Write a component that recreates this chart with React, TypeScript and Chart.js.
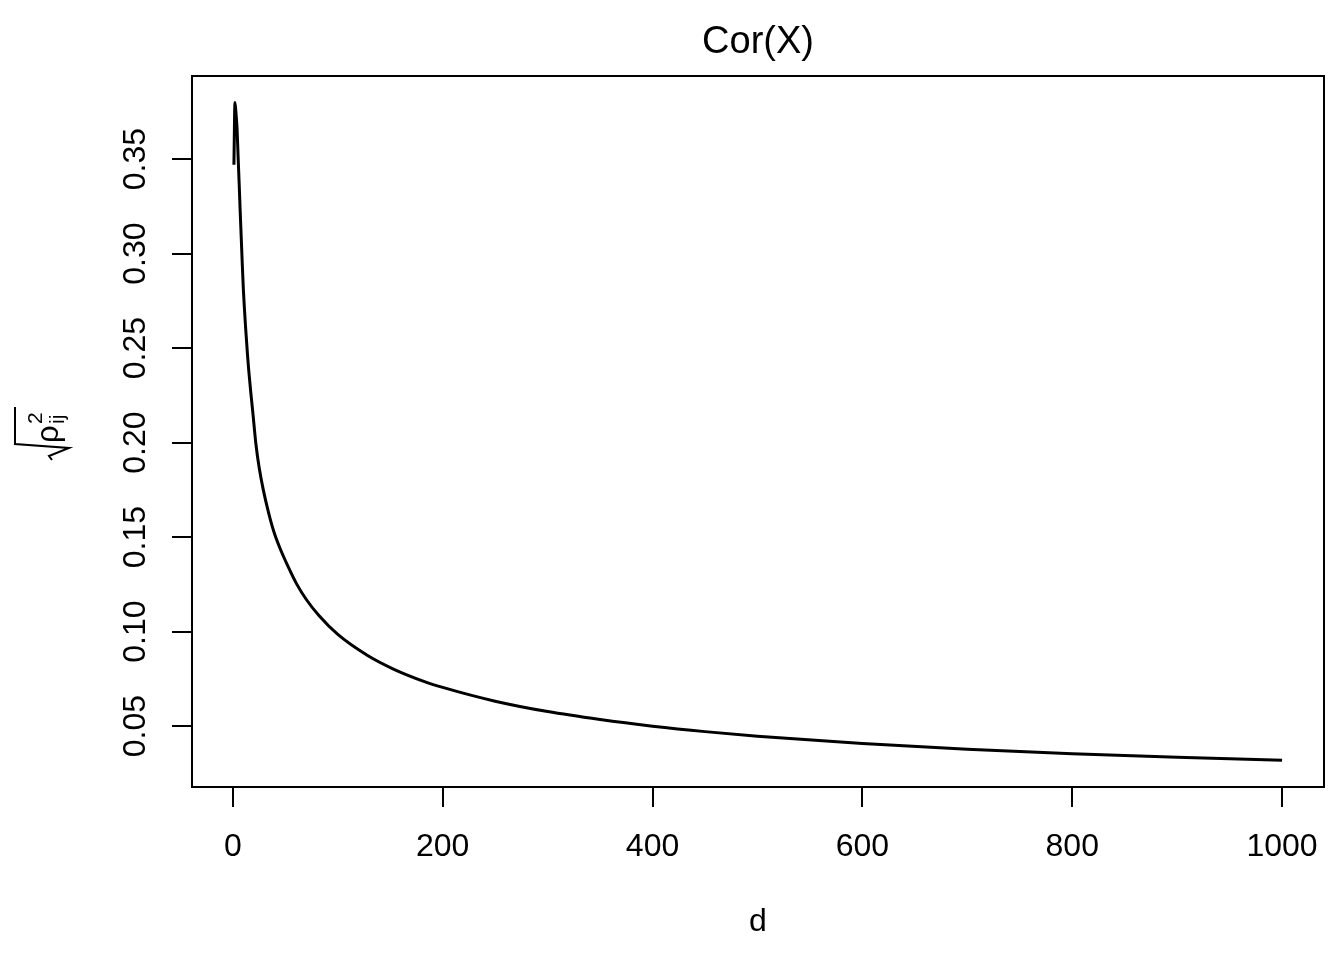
import React, { useEffect, useRef } from "react";
import { Chart, registerables } from "chart.js";

Chart.register(...registerables);

// dimension d
const dValues: number[] = [
  1, 2, 3, 4, 5, 6, 7, 8, 9, 10, 11, 12, 13, 14, 15, 16, 17, 19, 22, 25, 29, 34, 39, 45, 53, 61, 70, 82, 100,
  128, 153, 182, 200, 250, 300, 350, 400, 450, 500, 600, 700, 800, 900, 1000,
];
// sqrt(mean rho_ij^2)
const rhoValues: number[] = [
  0.347, 0.38, 0.374, 0.366, 0.351, 0.337, 0.322, 0.308, 0.294, 0.281, 0.271, 0.262, 0.254, 0.246, 0.239, 0.233,
  0.227, 0.216, 0.199, 0.187, 0.175, 0.163, 0.153, 0.144, 0.134, 0.125, 0.117, 0.1085, 0.0985, 0.0875, 0.0802,
  0.0737, 0.0705, 0.0632, 0.0577, 0.0535, 0.05, 0.0471, 0.0447, 0.0408, 0.0378, 0.0354, 0.0335, 0.032,
];
const xTicks: number[] = [0, 200, 400, 600, 800, 1000];
const xTickLabels: string[] = ["0", "200", "400", "600", "800", "1000"];
const yTicks: number[] = [0.05, 0.1, 0.15, 0.2, 0.25, 0.3, 0.35];
const yTickLabels: string[] = ["0.05", "0.10", "0.15", "0.20", "0.25", "0.30", "0.35"];
const titleText = "Cor(X)";
const xLabel = "d";

const FONT = '"Liberation Sans", Arial, Helvetica, sans-serif';

export default function App() {
  const ref = useRef<HTMLCanvasElement | null>(null);

  useEffect(() => {
    const canvas = ref.current;
    if (!canvas) return;
    const pts = dValues.map((d, i) => ({ x: d, y: rhoValues[i] }));

    const textPlugin = {
      id: "rtext",
      afterDraw(chart: any) {
        const ctx = chart.ctx as CanvasRenderingContext2D;
        const a = chart.chartArea;
        const xs = chart.scales.x;
        const ys = chart.scales.y;
        ctx.save();
        // box
        ctx.strokeStyle = "#000";
        ctx.lineWidth = 2;
        ctx.strokeRect(a.left, a.top, a.right - a.left, a.bottom - a.top);
        ctx.fillStyle = "#000";
        // x tick labels
        ctx.font = `32px ${FONT}`;
        ctx.textAlign = "center";
        ctx.textBaseline = "middle";
        xTicks.forEach((v, i) => {
          ctx.fillText(xTickLabels[i], xs.getPixelForValue(v), 847);
        });
        // y tick labels rotated
        yTicks.forEach((v, i) => {
          ctx.save();
          ctx.translate(136, ys.getPixelForValue(v));
          ctx.rotate(-Math.PI / 2);
          ctx.fillText(yTickLabels[i], 0, 0);
          ctx.restore();
        });
        // title
        ctx.font = `38px ${FONT}`;
        ctx.fillText(titleText, (a.left + a.right) / 2, 43);
        // x label
        ctx.font = `32px ${FONT}`;
        ctx.fillText(xLabel, (a.left + a.right) / 2, 922);
        // y label: sqrt(rho_ij^2)
        ctx.save();
        ctx.translate(58, 458);
        ctx.rotate(-Math.PI / 2);
        ctx.lineWidth = 2;
        ctx.beginPath();
        ctx.moveTo(-2, -6);
        ctx.lineTo(2, -9);
        ctx.lineTo(10, 11);
        ctx.lineTo(14, -43);
        ctx.lineTo(51, -43);
        ctx.stroke();
        ctx.textAlign = "left";
        ctx.textBaseline = "alphabetic";
        ctx.font = `31px ${FONT}`;
        ctx.fillText("\u03c1", 15, 0);
        ctx.font = `21px ${FONT}`;
        ctx.fillText("2", 34, -16);
        ctx.fillText("ij", 34, 6);
        ctx.restore();
        ctx.restore();
      },
    };

    const chart = new Chart(canvas, {
      type: "line",
      data: {
        datasets: [
          {
            data: pts,
            borderColor: "#000",
            borderWidth: 3,
            pointRadius: 0,
            fill: false,
            cubicInterpolationMode: "monotone",
          },
        ],
      },
      options: {
        animation: false,
        responsive: false,
        devicePixelRatio: 1,
        parsing: false as any,
        layout: { padding: { left: 0, top: 76, right: 20, bottom: 0 } },
        plugins: {
          legend: { display: false },
          title: { display: false },
          tooltip: { enabled: false },
        },
        scales: {
          x: {
            type: "linear",
            min: -38.96,
            max: 1039.96,
            afterBuildTicks: (s: any) => {
              s.ticks = xTicks.map((v) => ({ value: v }));
            },
            afterFit: (s: any) => {
              s.height = 173;
            },
            grid: { drawOnChartArea: false, drawTicks: true, tickLength: 20, color: "#000", lineWidth: 2 },
            border: { display: false },
            ticks: { display: false },
          },
          y: {
            type: "linear",
            min: 0.0178,
            max: 0.394,
            afterBuildTicks: (s: any) => {
              s.ticks = yTicks.map((v) => ({ value: v }));
            },
            afterFit: (s: any) => {
              s.width = 192;
            },
            grid: { drawOnChartArea: false, drawTicks: true, tickLength: 20, color: "#000", lineWidth: 2 },
            border: { display: false },
            ticks: { display: false },
          },
        },
      },
      plugins: [textPlugin],
    } as any);
    return () => chart.destroy();
  }, []);

  return (
    <div style={{ position: "absolute", left: 0, top: 0, width: 1344, height: 960, background: "#fff" }}>
      <canvas ref={ref} width={1344} height={960} style={{ width: 1344, height: 960 }} />
    </div>
  );
}
